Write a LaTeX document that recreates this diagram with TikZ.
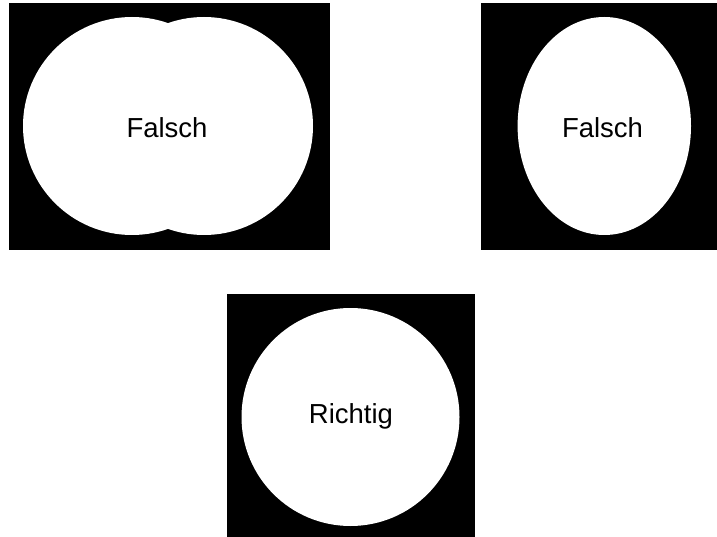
\documentclass[tikz,border=0pt]{standalone}
\usepackage{fontspec}
\setmainfont{Liberation Sans}
\usepackage{tikz}
\usetikzlibrary{positioning}

\begin{document}
\begin{tikzpicture}[x=1pt,y=-1pt,font=\fontsize{27.5}{33}\selectfont,
  panel/.style={fill=black},blob/.style={fill=white}]
  \useasboundingbox (0,0) rectangle (717,537);
  % two overlapping circles
  \fill[panel] (9,3) rectangle (330,250);
  \fill[blob] (132,126) circle (109) (204,126) circle (109);
  \node (lTwo) at (167,128) {Falsch};
  % ellipse
  \fill[panel] (481,3) rectangle (717,250);
  \fill[blob] (604.3,126) ellipse (86.7 and 109);
  \node (lOval) at (602.5,128) {Falsch};
  % circle
  \fill[panel] (227,294) rectangle (475,537);
  \fill[blob] (350.5,417) circle (109);
  \node (lRound) at (351,416) {Richtig};
\end{tikzpicture}
\end{document}
